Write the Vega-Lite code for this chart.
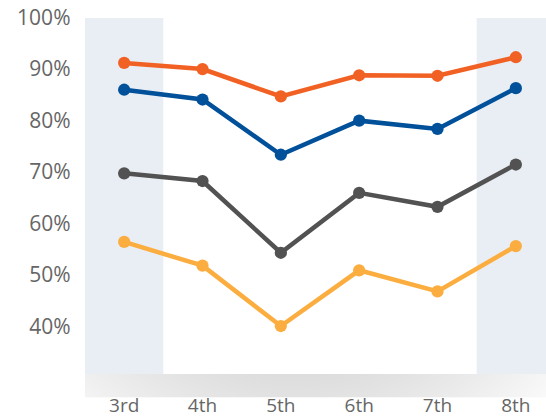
{
  "$schema": "https://vega.github.io/schema/vega-lite/v6.json",
  "autosize": "none",
  "width": 470,
  "height": 356,
  "padding": {"left": 85, "top": 18, "right": 0, "bottom": 43},
  "background": "white",
  "config": {
    "view": {"stroke": null},
    "font": "Open Sans",
    "axisX": {
      "title": null, "domain": false, "ticks": false, "grid": false,
      "labelAngle": 0, "labelFontSize": 19, "labelColor": "#666666",
      "labelPadding": 22, "labelFont": "Open Sans"
    },
    "axisY": {
      "title": null, "domain": false, "ticks": false,
      "labelFontSize": 21, "labelColor": "#666666", "labelPadding": 15,
      "labelFont": "Open Sans",
      "gridColor": "#c9ccd1", "gridWidth": 2, "gridOpacity": 1
    }
  },
  "datasets": {
    "scores": [
      {"grade": "3rd", "series": "A", "value": 91.3},
      {"grade": "4th", "series": "A", "value": 90.1},
      {"grade": "5th", "series": "A", "value": 84.8},
      {"grade": "6th", "series": "A", "value": 88.9},
      {"grade": "7th", "series": "A", "value": 88.8},
      {"grade": "8th", "series": "A", "value": 92.4},
      {"grade": "3rd", "series": "B", "value": 86.1},
      {"grade": "4th", "series": "B", "value": 84.2},
      {"grade": "5th", "series": "B", "value": 73.5},
      {"grade": "6th", "series": "B", "value": 80.1},
      {"grade": "7th", "series": "B", "value": 78.5},
      {"grade": "8th", "series": "B", "value": 86.4},
      {"grade": "3rd", "series": "C", "value": 69.9},
      {"grade": "4th", "series": "C", "value": 68.4},
      {"grade": "5th", "series": "C", "value": 54.5},
      {"grade": "6th", "series": "C", "value": 66.1},
      {"grade": "7th", "series": "C", "value": 63.4},
      {"grade": "8th", "series": "C", "value": 71.6},
      {"grade": "3rd", "series": "D", "value": 56.6},
      {"grade": "4th", "series": "D", "value": 52.0},
      {"grade": "5th", "series": "D", "value": 40.3},
      {"grade": "6th", "series": "D", "value": 51.1},
      {"grade": "7th", "series": "D", "value": 47.0},
      {"grade": "8th", "series": "D", "value": 55.8}
    ],
    "shaded": [{"grade": "3rd"}, {"grade": "8th"}],
    "grades": [{"grade": "3rd"}, {"grade": "4th"}, {"grade": "5th"}, {"grade": "6th"}, {"grade": "7th"}, {"grade": "8th"}]
  },
  "layer": [
    {
      "data": {"name": "grades"},
      "transform": [{"filter": "datum.grade === '3rd'"}],
      "mark": {
        "type": "rect",
        "clip": false,
        "color": {
          "gradient": "radial",
          "x1": 0.45, "y1": 0, "r1": 0,
          "x2": 0.45, "y2": 0, "r2": 0.8,
          "stops": [
            {"offset": 0, "color": "#b9b9b9"},
            {"offset": 0.55, "color": "#d9d9d9"},
            {"offset": 1, "color": "#ffffff"}
          ]
        }
      },
      "encoding": {
        "x": {"value": 0},
        "x2": {"value": 470},
        "y": {"datum": 31, "type": "quantitative", "scale": {"domain": [31, 100], "nice": false, "zero": false}},
        "y2": {"datum": 26.5}
      }
    },
    {
      "data": {"name": "shaded"},
      "mark": {"type": "rect", "color": "#c0cfe3", "opacity": 0.35},
      "encoding": {
        "x": {"field": "grade", "type": "nominal", "sort": ["3rd", "4th", "5th", "6th", "7th", "8th"],
              "scale": {"type": "band", "paddingInner": 0, "paddingOuter": 0}}
      }
    },
    {
      "data": {"name": "scores"},
      "mark": {"type": "line", "strokeWidth": 4.5, "point": {"size": 150, "filled": true, "opacity": 1}},
      "encoding": {
        "x": {
          "field": "grade", "type": "nominal", "sort": ["3rd", "4th", "5th", "6th", "7th", "8th"],
          "scale": {"type": "band", "paddingInner": 0, "paddingOuter": 0}
        },
        "y": {
          "field": "value", "type": "quantitative",
          "scale": {"domain": [31, 100], "nice": false, "zero": false},
          "axis": {
            "values": [40, 50, 60, 70, 80, 90, 100],
            "labelExpr": "datum.value + '%'"
          }
        },
        "color": {
          "field": "series", "type": "nominal", "legend": null,
          "scale": {"domain": ["A", "B", "C", "D"], "range": ["#f26124", "#00509a", "#525252", "#fbae3f"]}
        }
      }
    }
  ]
}
